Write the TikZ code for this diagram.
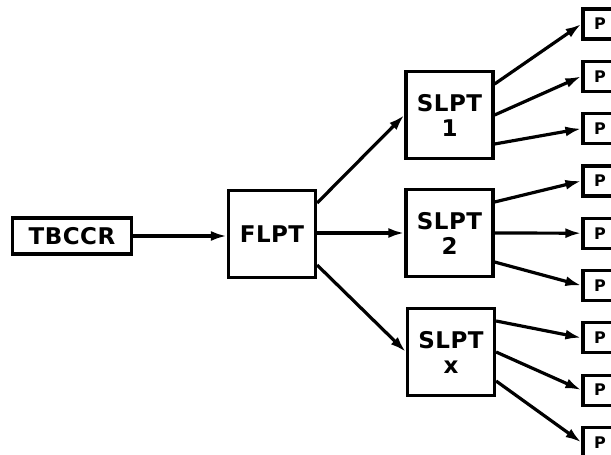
\documentclass[tikz,border=0pt]{standalone}
\usepackage{fontspec}
\setsansfont[LetterSpace=2]{DejaVu Sans}
\usepackage{tikz}
\usetikzlibrary{arrows}
\usetikzlibrary{arrows.meta}

\begin{document}
\begin{tikzpicture}[x=1pt,y=-1pt,thick]
\tikzstyle{block} = [rectangle, draw, line width=3.2pt, minimum width=87, minimum height=87,
inner sep=0, align=center, font=\sffamily\bfseries\fontsize{23}{25}\selectfont]
\tikzstyle{wide} = [block, minimum width=119, minimum height=36]
\tikzstyle{pbox} = [rectangle, draw, line width=3.2pt, minimum width=34, minimum height=30,
inner sep=0, font=\sffamily\bfseries\fontsize{16}{16}\selectfont]
\tikzstyle{line} = [draw, line width=3.2pt, -{Latex[length=16,width=10]}]
\useasboundingbox (0,0) rectangle (611,455);
\clip (0,0) rectangle (611,455);
% first and second level
\node [wide] (tbccr) at (72,236) {TBCCR};
\node [block] (flpt) at (272,234) {FLPT};
\node [block] (slpt1) at (449.5,115) {SLPT\\1};
\node [block] (slpt2) at (449.5,233) {SLPT\\2};
\node [block] (slptx) at (451,352) {SLPT\\x};
% points
\foreach \i in {1,...,9}
  \node [pbox] (p\i) at (600,{24+(\i-1)*52.3}) {P};
\path [line] (tbccr.east) -- (tbccr.east -| flpt.west);
\path [line] ([yshift=31pt]flpt.east) -- (slpt1.west);
\path [line] (flpt.east |- slpt2.west) -- (slpt2.west);
\path [line] ([yshift=-31pt]flpt.east) -- (slptx.west);
\foreach \s/\a/\b/\c in {slpt1/1/2/3, slpt2/4/5/6, slptx/7/8/9} {
  \path [line] ([yshift=31pt]\s.east) -- (p\a.west);
  \path [line] (\s.east) -- (p\b.west);
  \path [line] ([yshift=-29pt]\s.east) -- (p\c.west);
}
\end{tikzpicture}
\end{document}
